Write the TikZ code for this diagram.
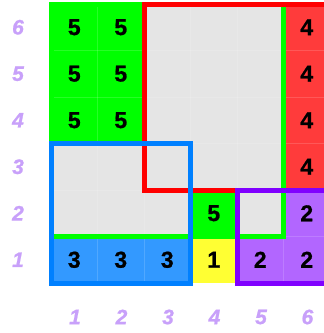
\documentclass[tikz,border=0pt]{standalone}
\usepackage{fontspec}
\setmainfont{Liberation Sans}
\newfontfamily\numfont{Liberation Sans Bold}[FakeBold=0.8]
\newfontfamily\labfont{Liberation Sans Bold Italic}[FakeBold=0.8]
\definecolor{cgrey}{RGB}{229,229,229}
\definecolor{cgreen}{RGB}{0,255,0}
\definecolor{cred}{RGB}{255,59,59}
\definecolor{credb}{RGB}{255,0,0}
\definecolor{cblue}{RGB}{51,153,255}
\definecolor{cblueb}{RGB}{0,128,255}
\definecolor{cpurple}{RGB}{178,102,255}
\definecolor{cpurpleb}{RGB}{128,0,255}
\definecolor{cyellow}{RGB}{255,255,51}
\definecolor{clabel}{RGB}{200,160,250}
\newcommand\cellat[3]{\fill[#3] ({51+(#1-1)*46.5},{283-#2*46.5}) rectangle ++(46.5,46.5);}
\begin{document}
\begin{tikzpicture}[x=1pt,y=-1pt,
  num/.style={font=\numfont\fontsize{23}{23}\selectfont, inner sep=0pt},
  lab/.style={text=clabel, font=\labfont\fontsize{21}{21}\selectfont, inner sep=0pt},
  frame/.style={line width=5pt},
  gridline/.style={white, opacity=0.15, line width=0.8pt}]
\useasboundingbox (0,0) rectangle (324,333);
\fill[white] (0,0) rectangle (324,333);
\begin{scope}
\clip (0,0) rectangle (324,333);
% grey background of the grid
\fill[cgrey] (51,4) rectangle (330,283);
% green cells
\foreach \c/\r in {1/6,2/6,1/5,2/5,1/4,2/4,4/2} {\cellat{\c}{\r}{cgreen}}
% red cells
\foreach \r in {3,4,5,6} {\cellat{6}{\r}{cred}}
% blue cells
\foreach \c in {1,2,3} {\cellat{\c}{1}{cblue}}
% purple cells
\foreach \c/\r in {5/1,6/1,6/2} {\cellat{\c}{\r}{cpurple}}
% yellow cell
\cellat{4}{1}{cyellow}
% faint grid lines
\foreach \i in {1,...,5} {
  \draw[gridline] ({51+\i*46.5},4) -- ({51+\i*46.5},283);
  \draw[gridline] (51,{4+\i*46.5}) -- (330,{4+\i*46.5});
}
% frames
\draw[frame, cgreen] (51,4) rectangle (283.5,236.5);
\draw[frame, credb] (144,4) rectangle (330,190);
\draw[frame, cblueb] (51,143.5) rectangle (190.5,283);
\draw[frame, cpurpleb] (237,190) rectangle (330,283);
\end{scope}
% numbers
\node[num] (g61) at (74.25,27.25) {5};
\node[num] (g62) at (120.75,27.25) {5};
\node[num] (g51) at (74.25,73.75) {5};
\node[num] (g52) at (120.75,73.75) {5};
\node[num] (g41) at (74.25,120.25) {5};
\node[num] (g42) at (120.75,120.25) {5};
\node[num] (g24) at (213.75,213.25) {5};
\node[num] (r66) at (306.75,27.25) {4};
\node[num] (r56) at (306.75,73.75) {4};
\node[num] (r46) at (306.75,120.25) {4};
\node[num] (r36) at (306.75,166.75) {4};
\node[num] (b11) at (74.25,259.75) {3};
\node[num] (b12) at (120.75,259.75) {3};
\node[num] (b13) at (167.25,259.75) {3};
\node[num] (y14) at (213.75,259.75) {1};
\node[num] (p15) at (260.25,259.75) {2};
\node[num] (p16) at (306.75,259.75) {2};
\node[num] (p26) at (306.75,213.25) {2};
% row labels
\node[lab] (row6) at (18,27.25) {6};
\node[lab] (row5) at (18,73.75) {5};
\node[lab] (row4) at (18,120.25) {4};
\node[lab] (row3) at (18,166.75) {3};
\node[lab] (row2) at (18,213.25) {2};
\node[lab] (row1) at (18,259.75) {1};
% column labels
\node[lab] (col1) at (75,317) {1};
\node[lab] (col2) at (121.5,317) {2};
\node[lab] (col3) at (168,317) {3};
\node[lab] (col4) at (214.5,317) {4};
\node[lab] (col5) at (261,317) {5};
\node[lab] (col6) at (307.5,317) {6};
\end{tikzpicture}
\end{document}
